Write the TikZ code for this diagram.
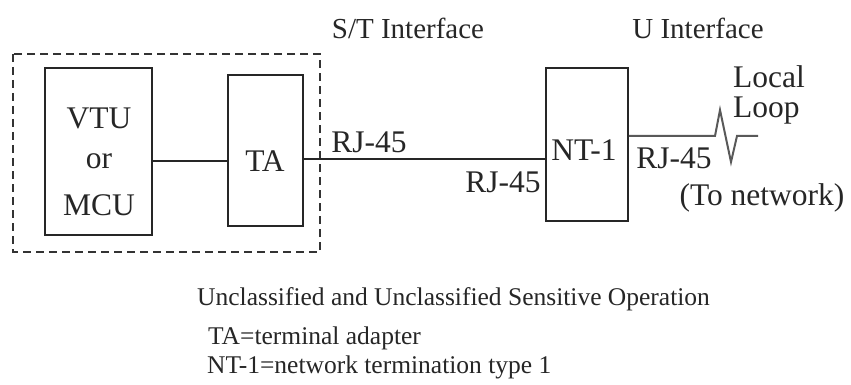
\documentclass[tikz,border=0pt]{standalone}
\usepackage{fontspec}
\setmainfont{Liberation Serif}
\begin{document}
\begin{tikzpicture}[x=1pt,y=-1pt,
  box/.style={draw=black!85,line width=1.8pt,minimum width=#1,inner sep=0pt},
  lbl/.style={font=\fontsize{31.5}{36}\selectfont,inner sep=0pt,text=black!85},
  hdr/.style={font=\fontsize{29}{34}\selectfont,inner sep=0pt,text=black!85},
  note/.style={font=\fontsize{25.5}{30}\selectfont,inner sep=0pt,anchor=west,text=black!85},
  wire/.style={draw=black!85,line width=2pt}]
\useasboundingbox (0,0) rectangle (851,385);

% terminal group
\draw[black!80,line width=2.6pt,dash pattern=on 8pt off 5pt] (13,54) rectangle (320,252);
\node[box=107pt,minimum height=167pt] (vtu) at (98.5,151.5) {};
\node[box=75pt,minimum height=151pt] (ta) at (265.5,150.5) {};
\node[box=82pt,minimum height=153pt] (nt) at (587,144.5) {};

\node[lbl] (vtut) at (99,118) {VTU};
\node[lbl] (ort) at (99,161) {or};
\node[lbl] (mcut) at (99,205) {MCU};
\node[lbl] (tat) at (265,161) {TA};
\node[lbl] (ntt) at (584,150) {NT-1};

% links
\coordinate (l1) at (0,161);
\coordinate (l2) at (0,159);
\coordinate (l3) at (0,136);
\draw[wire] (vtu.east |- l1) -- (ta.west |- l1);
\draw[wire] (ta.east |- l2) -- (nt.west |- l2);
\coordinate (zz) at (715,136);
\coordinate (zend) at (758,136);
\draw[black!65,line width=2pt,line join=miter] (nt.east |- l3) -- (zz) -- (720,110) -- (731,162) -- (737,136) -- (zend);

% connector labels
\node[lbl] (rj1) at (369,142) {RJ-45};
\node[lbl] (rj2) at (503,182) {RJ-45};
\node[lbl] (rj3) at (674,158) {RJ-45};
\node[lbl,anchor=west] (loc) at (733,77) {Local};
\node[lbl,anchor=west] (loop) at (733,111) {Loop};
\node[lbl] (tonet) at (762,198) {(To network)};

% interface headings
\node[hdr] (st) at (408,28) {S/T Interface};
\node[hdr] (u) at (698,28) {U Interface};

% notes
\node[note] (n1) at (197,299) {Unclassified and Unclassified Sensitive Operation};
\node[note] (n2) at (208,338) {TA=terminal adapter};
\node[note] (n3) at (207,367) {NT-1=network termination type 1};
\end{tikzpicture}
\end{document}
